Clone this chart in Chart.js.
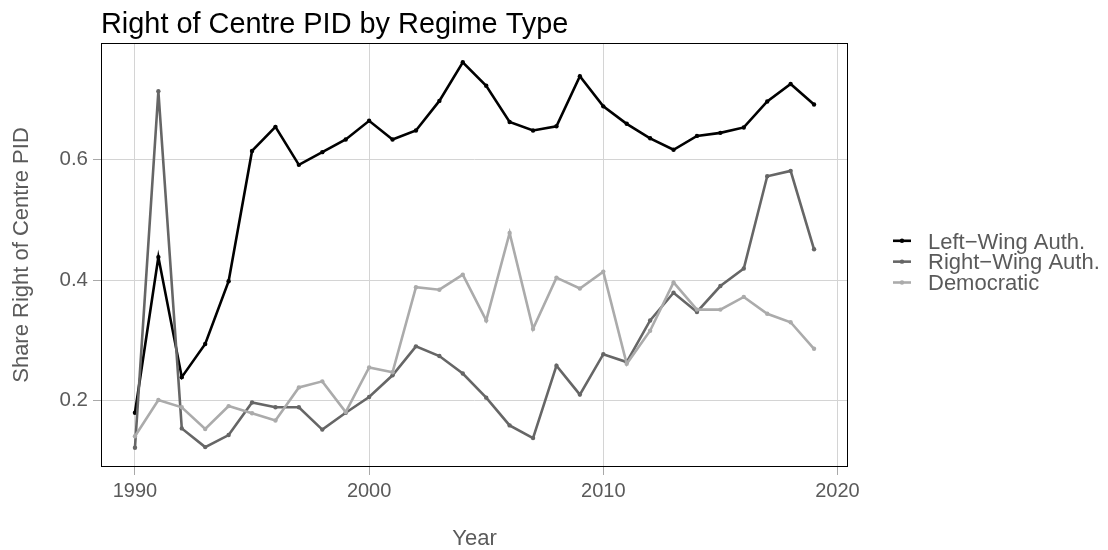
<!DOCTYPE html>
<html>
<head>
<meta charset="utf-8">
<script src="https://cdn.jsdelivr.net/npm/chart.js@4"></script>
<style>
  body { margin: 0; background: #fff; }
  #wrap { width: 1108px; height: 550px; position: relative; }
</style>
</head>
<body>
<div id="wrap"><canvas id="pidChart"></canvas></div>
<script>
var years = [1990, 1991, 1992, 1993, 1994, 1995, 1996, 1997, 1998, 1999,
             2000, 2001, 2002, 2003, 2004, 2005, 2006, 2007, 2008, 2009,
             2010, 2011, 2012, 2013, 2014, 2015, 2016, 2017, 2018, 2019];

var leftWing = [0.180, 0.438, 0.239, 0.294, 0.398, 0.614, 0.654, 0.591, 0.612, 0.633,
                0.664, 0.633, 0.648, 0.697, 0.761, 0.722, 0.662, 0.648, 0.655, 0.738,
                0.688, 0.659, 0.635, 0.616, 0.639, 0.644, 0.653, 0.696, 0.725, 0.691];

var rightWing = [0.122, 0.713, 0.154, 0.123, 0.143, 0.197, 0.189, 0.189, 0.152, 0.180,
                 0.206, 0.242, 0.290, 0.274, 0.245, 0.205, 0.159, 0.138, 0.258, 0.210,
                 0.277, 0.264, 0.333, 0.379, 0.347, 0.390, 0.419, 0.572, 0.581, 0.451];

var democratic = [0.141, 0.201, 0.189, 0.153, 0.191, 0.179, 0.167, 0.222, 0.232, 0.181,
                  0.255, 0.247, 0.388, 0.384, 0.409, 0.333, 0.478, 0.319, 0.404, 0.386,
                  0.414, 0.261, 0.316, 0.396, 0.351, 0.351, 0.372, 0.344, 0.330, 0.286];

var seriesNames = ["Left\u2212Wing Auth.", "Right\u2212Wing Auth.", "Democratic"];
var seriesColors = ["#000000", "#666666", "#ababab"];

var xTicks = [1990, 2000, 2010, 2020];
var yTicks = [0.2, 0.4, 0.6];

var textGrey = "#5a5a5a";
var fontFam = "'Liberation Sans', Arial, Helvetica, sans-serif";

function pairs(vals) {
  return years.map(function (yr, i) { return { x: yr, y: vals[i] }; });
}

function lineSet(idx, vals, order) {
  return {
    label: seriesNames[idx],
    data: pairs(vals),
    borderColor: seriesColors[idx],
    backgroundColor: seriesColors[idx],
    pointBackgroundColor: seriesColors[idx],
    borderWidth: 2.6,
    pointRadius: 2.2,
    pointBorderWidth: 0,
    tension: 0,
    order: order
  };
}

// title, legend and panel frame
var decor = {
  id: "decor",
  afterDatasetsDraw: function (chart) {
    var ctx = chart.ctx;
    var a = chart.chartArea;
    ctx.save();
    ctx.strokeStyle = "#000";
    ctx.lineWidth = 1;
    ctx.strokeRect(a.left + 0.5, a.top + 0.5, a.right - a.left - 1, a.bottom - a.top - 1);

    ctx.fillStyle = "#000";
    ctx.font = "28.9px " + fontFam;
    ctx.textBaseline = "alphabetic";
    ctx.fillText("Right of Centre PID by Regime Type", 101, 33);

    var baseY = 248.5;
    ctx.font = "22px " + fontFam;
    seriesNames.forEach(function (name, i) {
      var y = baseY + i * 20.85;
      var my = y - 7.7;
      ctx.strokeStyle = seriesColors[i];
      ctx.lineWidth = 2.6;
      ctx.beginPath();
      ctx.moveTo(893, my);
      ctx.lineTo(911, my);
      ctx.stroke();
      ctx.fillStyle = seriesColors[i];
      ctx.beginPath();
      ctx.arc(902, my, 2.2, 0, Math.PI * 2);
      ctx.fill();
      ctx.fillStyle = textGrey;
      ctx.fillText(name, 928, y);
    });
    ctx.restore();
  }
};

var ctx = document.getElementById("pidChart").getContext("2d");
var myChart = new Chart(ctx, {
  type: "line",
  data: {
    datasets: [
      lineSet(0, leftWing, 3),
      lineSet(1, rightWing, 2),
      lineSet(2, democratic, 1)
    ]
  },
  options: {
    responsive: true,
    maintainAspectRatio: false,
    animation: false,
    layout: { padding: { top: 43, right: 260, bottom: 0, left: 0 } },
    plugins: {
      legend: { display: false },
      title: { display: false },
      tooltip: { enabled: false }
    },
    scales: {
      x: {
        type: "linear",
        min: 1988.55,
        max: 2020.45,
        afterFit: function (scale) { scale.height = 83; },
        afterBuildTicks: function (scale) {
          scale.ticks = xTicks.map(function (v) { return { value: v }; });
        },
        ticks: {
          padding: 4,
          color: textGrey,
          font: { family: fontFam, size: 20 },
          maxRotation: 0,
          callback: function (v) { return String(v); }
        },
        grid: {
          color: "#d4d4d4",
          lineWidth: 1,
          drawTicks: true,
          tickLength: 8,
          tickColor: "#a8a8a8"
        },
        border: { display: false },
        title: {
          display: true,
          text: "Year",
          color: textGrey,
          font: { family: fontFam, size: 22, lineHeight: 1.0 },
          padding: { top: 0, bottom: 0 }
        }
      },
      y: {
        min: 0.09,
        max: 0.793,
        afterFit: function (scale) { scale.width = 101; },
        afterBuildTicks: function (scale) {
          scale.ticks = yTicks.map(function (v) { return { value: v }; });
        },
        ticks: {
          padding: 5,
          color: textGrey,
          font: { family: fontFam, size: 20.5 },
          callback: function (v) { return v.toFixed(1); }
        },
        grid: {
          color: "#d4d4d4",
          lineWidth: 1,
          drawTicks: true,
          tickLength: 8,
          tickColor: "#a8a8a8"
        },
        border: { display: false },
        title: {
          display: true,
          text: "Share Right of Centre PID",
          color: textGrey,
          font: { family: fontFam, size: 22, lineHeight: 1.2 },
          padding: { top: 9, bottom: 0 }
        }
      }
    }
  },
  plugins: [decor]
});
</script>
</body>
</html>
